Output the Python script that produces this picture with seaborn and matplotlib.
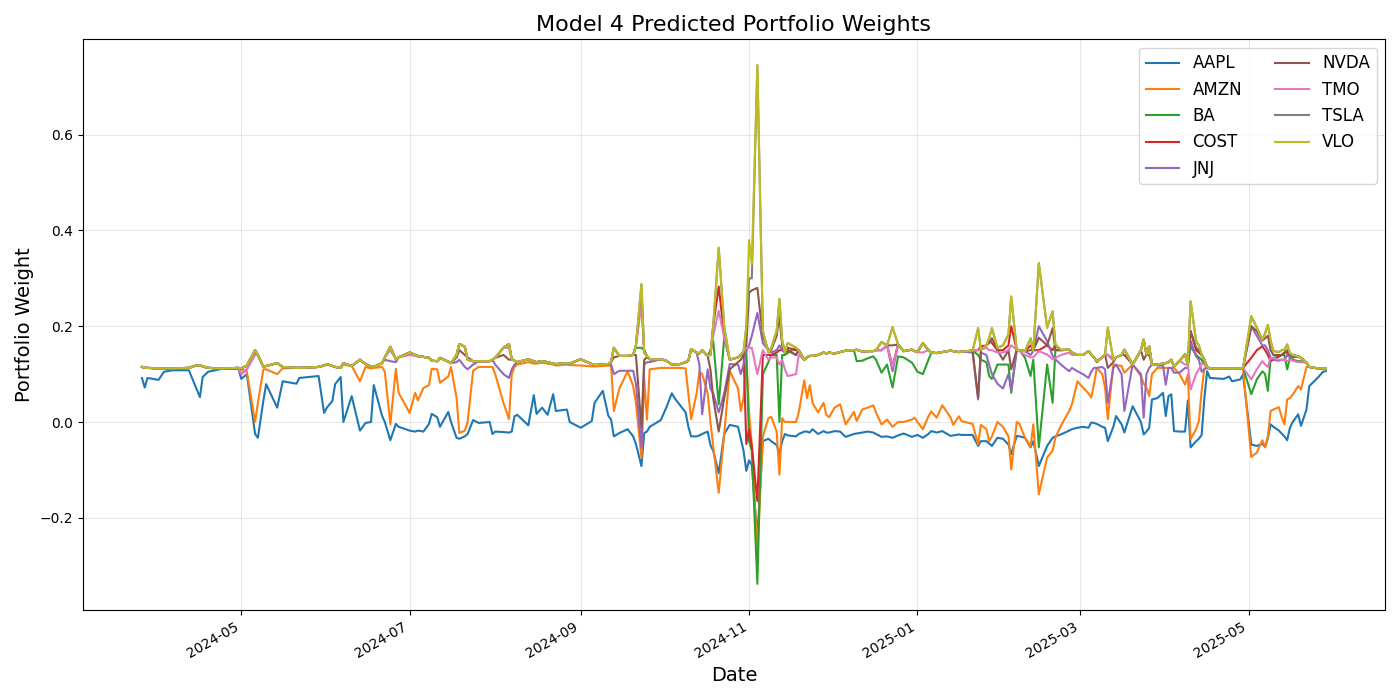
import matplotlib
matplotlib.use("Agg")
import matplotlib.pyplot as plt
import matplotlib.dates as mdates
import numpy as np
import pandas as pd
import seaborn as sns

# observation days, counted from 2024-03-26
start = "2024-03-26"
days = [0, 1, 2, 6, 8, 11, 17, 19, 21, 22,
        24, 29, 35, 36, 38, 41, 42, 44, 45, 49,
        51, 56, 57, 64, 66, 67, 69, 70, 72, 73,
        76, 79, 81, 83, 84, 87, 88, 90, 92, 93,
        97, 99, 100, 102, 104, 105, 107, 108, 111, 112,
        114, 115, 117, 118, 120, 122, 126, 127, 128, 131,
        133, 134, 135, 136, 140, 142, 143, 145, 147, 149,
        150, 154, 155, 159, 163, 164, 167, 169, 170, 171,
        173, 176, 178, 179, 181, 182, 183, 184, 188, 190,
        192, 193, 195, 197, 198, 199, 201, 202, 203, 205,
        206, 207, 209, 211, 213, 216, 217, 218, 219, 220,
        221, 223, 225, 227, 228, 230, 231, 232, 233, 234,
        237, 238, 240, 241, 242, 243, 245, 247, 248, 249,
        251, 253, 255, 258, 259, 261, 263, 265, 266, 268,
        270, 272, 274, 276, 279, 280, 281, 283, 285, 286,
        288, 290, 293, 294, 296, 297, 301, 303, 304, 306,
        307, 308, 310, 312, 314, 315, 317, 318, 320, 322,
        323, 325, 328, 330, 331, 333, 336, 337, 339, 341,
        343, 344, 345, 346, 348, 349, 350, 352, 353, 355,
        356, 359, 362, 363, 364, 365, 366, 368, 370, 371,
        372, 373, 374, 376, 378, 379, 380, 382, 383, 384,
        385, 386, 387, 392, 394, 395, 398, 399, 402, 404,
        406, 407, 408, 409, 410, 412, 413, 414, 415, 416,
        417, 419, 420, 422, 423, 426, 428, 429]

aapl = [.092, .072, .092, .088, .105, .108, .108, .080, .052, .094,
        .105, .111, .111, .090, .100, -.025, -.033, .045, .079, .030,
        .085, .080, .092, .096, .019, .030, .044, .079, .094, .000,
        .054, -.018, -.002, .000, .077, .013, .000, -.038, -.004, -.010,
        -.018, -.020, -.018, -.020, -.004, .017, .010, -.010, .021, .000,
        -.033, -.035, -.030, -.025, .004, -.002, .000, -.025, -.020, -.021,
        -.022, -.020, .012, .015, -.007, .056, .017, .030, .015, .058,
        .023, .026, .000, -.012, .002, .040, .065, .013, .005, -.030,
        -.023, -.015, -.030, -.046, -.092, -.023, -.020, -.010, .004, .030,
        .060, .050, .035, .020, -.010, -.030, -.030, -.028, -.025, -.020,
        -.048, -.060, -.107, -.025, -.006, -.010, -.035, -.060, -.102, -.080,
        -.090, -.242, -.040, -.035, -.040, -.048, -.067, -.040, -.025, -.028,
        -.030, -.025, -.020, -.020, -.022, -.015, -.025, -.019, -.022, -.022,
        -.019, -.020, -.031, -.025, -.024, -.022, -.020, -.022, -.025, -.031,
        -.030, -.033, -.028, -.024, -.031, -.029, -.027, -.033, -.025, -.019,
        -.022, -.019, -.029, -.028, -.026, -.027, -.027, -.050, -.040, -.040,
        -.045, -.050, -.033, -.035, -.047, -.067, -.029, -.030, -.033, -.053,
        -.040, -.092, -.050, -.033, -.030, -.026, -.018, -.015, -.012, -.010,
        -.012, -.001, -.002, -.004, -.010, -.012, -.040, -.010, .0125, -.005,
        -.022, .033, .000, -.026, -.020, -.012, .047, .050, .061, .0125,
        .054, .058, -.019, -.020, -.020, .045, -.053, -.040, -.035, -.027,
        .050, .106, .092, .090, .095, .085, .089, .099, -.047, -.050,
        -.045, -.052, -.034, -.005, -.010, -.018, -.024, -.030, -.038, -.012,
        .000, .016, -.008, .026, .075, .092, .105, .106]

amzn = [.115, .113, .113, .112, .112, .112, .113, .117, .119, .116,
        .113, .112, .113, .110, .105, .000, .040, .110, .110, .100,
        .112, .113, .113, .115, .118, .121, .117, .115, .113, .120,
        .117, .085, .115, .112, .113, .115, .105, -.005, .111, .061,
        .019, .061, .045, .071, .077, .111, .110, .082, .095, .115,
        .050, -.023, -.018, .000, .107, .115, .115, .115, .100, .040,
        .006, .100, .115, .120, .125, .122, .122, .124, .122, .120,
        .118, .120, .119, .118, .116, .116, .117, .118, .118, .023,
        .070, .106, .075, .040, -.075, .090, .005, .110, .113, .113,
        .113, .113, .113, .112, .060, .006, .060, .105, .100, .060,
        .000, -.050, -.148, -.025, .107, .070, .023, .050, .130, .020,
        -.050, -.270, -.030, .008, .011, -.020, -.110, .008, .000, .000,
        .000, .020, .087, .050, .077, .040, .020, .040, .015, .010,
        .030, .037, -.005, .021, .002, .026, .030, .035, .020, -.005,
        .005, -.010, .000, .000, .005, .009, .000, -.015, .012, .022,
        .009, .035, .010, -.006, .012, .002, -.004, -.047, -.006, -.015,
        -.040, -.030, .000, -.010, -.030, -.099, .000, -.004, -.033, -.052,
        -.005, -.151, -.074, -.060, -.033, -.008, .023, .037, .085, .072,
        .060, .051, .079, .113, .100, .072, .006, .120, .119, .117,
        .103, .120, .096, .080, .072, .054, .100, .113, .113, .113,
        .113, .113, .113, .100, .078, .099, -.036, -.015, .002, .065,
        .112, .112, .112, .112, .112, .112, .112, .112, -.073, -.064,
        -.038, -.053, -.030, .023, .026, .031, .010, -.005, .047, .050,
        .057, .075, .068, .115, .115, .112, .112, .112]

ba = [.115, .113, .113, .112, .112, .112, .113, .117, .119, .116,
      .113, .112, .113, .112, .118, .150, .140, .115, .117, .123,
      .115, .113, .113, .115, .118, .121, .117, .115, .113, .123,
      .117, .130, .121, .116, .115, .123, .135, .157, .131, .135,
      .145, .140, .138, .136, .134, .128, .127, .134, .126, .123,
      .140, .163, .157, .130, .127, .127, .127, .130, .134, .155,
      .163, .131, .128, .125, .131, .127, .125, .127, .125, .122,
      .121, .123, .122, .131, .121, .119, .120, .121, .125, .155,
      .138, .138, .140, .155, .155, .150, .138, .131, .131, .128,
      .120, .120, .121, .125, .128, .152, .145, .143, .150, .138,
      .150, .170, .037, .176, .130, .135, .140, .147, .150, -.040,
      -.060, -.338, .100, .125, .140, .140, .000, .140, .140, .144,
      .155, .150, .130, .135, .138, .138, .140, .145, .143, .145,
      .143, .146, .149, .150, .127, .128, .133, .137, .130, .103,
      .120, .072, .137, .135, .124, .115, .105, .100, .130, .144,
      .144, .146, .149, .148, .146, .147, .149, .140, .130, .125,
      .096, .090, .120, .120, .120, .061, .151, .150, .134, .096,
      .130, -.053, .120, .040, .150, .150, .151, .145, .140, .140,
      .148, .141, .135, .127, .135, .141, .140, .130, .135, .140,
      .151, .120, .150, .172, .141, .158, .120, .120, .122, .123,
      .125, .130, .116, .128, .141, .120, .158, .140, .135, .130,
      .120, .115, .112, .112, .112, .112, .112, .113, .058, .089,
      .106, .100, .065, .134, .134, .137, .140, .140, .110, .134,
      .130, .127, .127, .124, .115, .112, .112, .112]

cost = [.115, .113, .113, .112, .112, .112, .113, .117, .119, .116,
        .113, .112, .113, .112, .118, .150, .140, .115, .117, .123,
        .115, .113, .113, .115, .118, .121, .117, .115, .113, .123,
        .117, .130, .121, .116, .115, .123, .135, .157, .131, .135,
        .145, .140, .138, .136, .134, .128, .127, .134, .126, .123,
        .140, .163, .157, .130, .127, .127, .127, .130, .134, .155,
        .163, .131, .128, .125, .131, .127, .125, .127, .125, .122,
        .121, .123, .122, .131, .121, .119, .120, .121, .125, .155,
        .138, .138, .140, .160, .265, .145, .138, .131, .131, .128,
        .120, .120, .121, .125, .128, .152, .145, .143, .150, .138,
        .140, .200, .283, .180, .130, .135, .140, .147, -.046, -.015,
        -.050, -.165, .140, .140, .140, .145, .150, .150, .150, .155,
        .150, .150, .130, .135, .138, .138, .140, .145, .143, .145,
        .143, .146, .149, .150, .151, .147, .148, .148, .150, .150,
        .160, .117, .162, .148, .151, .148, .146, .165, .150, .145,
        .144, .146, .149, .148, .146, .147, .149, .150, .158, .160,
        .170, .165, .150, .150, .160, .200, .151, .150, .148, .160,
        .150, .150, .160, .150, .160, .150, .151, .145, .140, .140,
        .148, .141, .135, .127, .135, .141, .140, .130, .135, .140,
        .151, .120, .150, .172, .141, .158, .120, .120, .122, .123,
        .125, .130, .116, .128, .141, .120, .190, .150, .145, .140,
        .130, .115, .112, .112, .112, .112, .112, .113, .134, .150,
        .158, .150, .140, .127, .130, .137, .140, .145, .145, .140,
        .135, .137, .134, .124, .115, .112, .112, .112]

jnj = [.115, .113, .113, .112, .112, .112, .113, .117, .119, .116,
       .113, .112, .113, .100, .110, .145, .140, .115, .117, .123,
       .115, .113, .113, .115, .118, .121, .117, .115, .113, .123,
       .117, .130, .121, .116, .115, .123, .130, .127, .125, .135,
       .145, .140, .138, .136, .134, .128, .127, .134, .126, .123,
       .125, .130, .115, .110, .120, .127, .127, .130, .120, .100,
       .092, .110, .120, .125, .131, .127, .125, .127, .125, .122,
       .121, .123, .122, .131, .121, .119, .120, .121, .120, .100,
       .107, .107, .107, .080, -.054, .120, .125, .125, .131, .128,
       .120, .120, .121, .125, .128, .152, .145, .120, .016, .110,
       .070, .060, .020, .060, .121, .120, .100, .120, .150, .160,
       .180, .228, .165, .150, .145, .150, .160, .150, .145, .150,
       .140, .150, .130, .135, .138, .138, .140, .145, .143, .145,
       .143, .146, .149, .150, .151, .147, .148, .148, .150, .150,
       .160, .106, .162, .148, .151, .148, .146, .165, .150, .145,
       .144, .146, .149, .148, .146, .147, .145, .047, .145, .140,
       .120, .100, .080, .070, .100, .065, .151, .150, .148, .140,
       .148, .200, .169, .138, .131, .120, .106, .113, .106, .100,
       .092, .105, .113, .113, .115, .110, .040, .113, .120, .100,
       .023, .120, .100, .009, .100, .113, .120, .118, .118, .078,
       .113, .113, .103, .103, .113, .113, .170, .137, .130, .105,
       .110, .115, .112, .112, .112, .112, .112, .113, .200, .180,
       .160, .160, .150, .135, .130, .128, .130, .130, .140, .135,
       .140, .137, .134, .124, .115, .112, .112, .112]

nvda = [.115, .113, .113, .112, .112, .112, .113, .117, .119, .116,
        .113, .112, .113, .112, .118, .150, .140, .115, .117, .123,
        .115, .113, .113, .115, .118, .121, .117, .115, .113, .123,
        .117, .130, .121, .116, .115, .123, .135, .157, .131, .135,
        .145, .140, .138, .136, .134, .128, .127, .134, .126, .123,
        .135, .150, .140, .135, .127, .127, .127, .130, .134, .140,
        .130, .131, .128, .125, .131, .127, .125, .127, .125, .122,
        .121, .123, .122, .131, .121, .119, .120, .121, .125, .135,
        .138, .138, .140, .140, -.012, .130, .135, .131, .131, .128,
        .120, .120, .121, .125, .128, .152, .145, .143, .150, .138,
        .110, .050, -.020, .050, .110, .125, .130, .140, .160, .270,
        .275, .280, .180, .150, .150, .180, .220, .160, .145, .150,
        .140, .150, .130, .135, .138, .138, .140, .145, .143, .145,
        .143, .146, .149, .150, .151, .147, .148, .148, .150, .167,
        .160, .160, .162, .148, .151, .148, .146, .165, .150, .145,
        .144, .146, .149, .148, .146, .147, .149, .051, .150, .160,
        .165, .175, .150, .130, .150, .110, .151, .150, .148, .150,
        .150, .176, .160, .196, .150, .150, .151, .145, .140, .140,
        .148, .141, .135, .125, .135, .141, .113, .125, .135, .140,
        .140, .120, .150, .130, .141, .140, .120, .120, .122, .123,
        .125, .130, .116, .128, .141, .120, .190, .155, .150, .140,
        .130, .115, .112, .112, .112, .112, .112, .113, .200, .190,
        .170, .175, .180, .150, .140, .140, .140, .145, .150, .140,
        .140, .137, .134, .124, .115, .112, .112, .112]

tmo = [.115, .113, .113, .112, .112, .112, .113, .117, .119, .116,
       .113, .112, .113, .100, .110, .140, .140, .115, .117, .123,
       .115, .113, .113, .115, .118, .121, .117, .115, .113, .123,
       .117, .130, .121, .116, .115, .123, .135, .150, .131, .135,
       .140, .138, .136, .136, .134, .128, .127, .134, .126, .123,
       .140, .163, .157, .130, .127, .127, .127, .130, .134, .155,
       .155, .131, .128, .125, .131, .127, .125, .127, .125, .122,
       .121, .123, .122, .131, .121, .119, .120, .121, .125, .155,
       .138, .138, .140, .160, .245, .145, .138, .131, .131, .128,
       .120, .120, .121, .125, .128, .152, .145, .143, .150, .138,
       .140, .180, .232, .176, .130, .135, .140, .147, .155, .155,
       .155, .100, .150, .130, .135, .135, .120, .130, .110, .096,
       .100, .140, .130, .135, .138, .138, .140, .145, .143, .145,
       .143, .146, .149, .150, .151, .147, .148, .148, .150, .150,
       .160, .115, .162, .148, .151, .148, .146, .145, .150, .145,
       .144, .146, .149, .148, .146, .147, .149, .150, .151, .155,
       .150, .150, .145, .145, .150, .160, .151, .148, .140, .135,
       .135, .148, .141, .131, .134, .140, .145, .140, .140, .140,
       .148, .141, .135, .127, .135, .141, .140, .130, .135, .140,
       .151, .120, .150, .172, .141, .158, .120, .120, .122, .123,
       .125, .130, .116, .128, .120, .120, .068, .100, .110, .123,
       .120, .115, .112, .112, .112, .112, .112, .113, .089, .110,
       .127, .120, .115, .134, .134, .130, .130, .130, .127, .130,
       .128, .125, .125, .124, .115, .112, .112, .112]

tsla = [.115, .113, .113, .112, .112, .112, .113, .117, .119, .116,
        .113, .112, .113, .112, .118, .150, .140, .115, .117, .123,
        .115, .113, .113, .115, .118, .121, .117, .115, .113, .123,
        .117, .130, .121, .116, .115, .123, .135, .157, .131, .135,
        .145, .140, .138, .136, .134, .128, .127, .134, .126, .123,
        .140, .163, .157, .130, .127, .127, .127, .130, .134, .155,
        .163, .131, .128, .125, .131, .127, .125, .127, .125, .122,
        .121, .123, .122, .131, .121, .119, .120, .121, .125, .155,
        .138, .138, .140, .160, .288, .145, .138, .131, .131, .128,
        .120, .120, .121, .125, .128, .152, .145, .143, .150, .138,
        .140, .200, .364, .200, .130, .135, .140, .147, .200, .300,
        .300, .745, .190, .145, .154, .190, .257, .170, .145, .165,
        .155, .150, .130, .135, .138, .138, .140, .145, .143, .145,
        .143, .146, .149, .150, .151, .147, .148, .148, .150, .167,
        .160, .198, .162, .148, .151, .148, .146, .165, .150, .145,
        .144, .146, .149, .148, .146, .147, .149, .196, .151, .160,
        .175, .196, .155, .160, .183, .262, .151, .150, .148, .175,
        .148, .332, .197, .231, .162, .151, .151, .145, .140, .140,
        .148, .141, .135, .127, .135, .141, .197, .130, .135, .140,
        .151, .120, .150, .172, .141, .158, .120, .120, .122, .123,
        .125, .130, .116, .128, .141, .120, .252, .169, .160, .141,
        .130, .115, .112, .112, .112, .112, .112, .113, .221, .197,
        .172, .185, .203, .170, .148, .146, .150, .151, .162, .144,
        .140, .137, .134, .124, .115, .112, .112, .112]

vlo = [.115, .113, .113, .112, .112, .112, .113, .117, .119, .116,
       .113, .112, .113, .112, .118, .150, .140, .115, .117, .123,
       .115, .113, .113, .115, .118, .121, .117, .115, .113, .123,
       .117, .130, .121, .116, .115, .123, .135, .157, .131, .135,
       .145, .140, .138, .136, .134, .128, .127, .134, .126, .123,
       .140, .163, .157, .130, .127, .127, .127, .130, .134, .155,
       .163, .131, .128, .125, .131, .127, .125, .127, .125, .122,
       .121, .123, .122, .131, .121, .119, .120, .121, .125, .155,
       .138, .138, .140, .160, .288, .145, .138, .131, .131, .128,
       .120, .120, .121, .125, .128, .152, .145, .143, .150, .138,
       .140, .200, .364, .200, .130, .135, .140, .147, .200, .380,
       .330, .745, .190, .145, .154, .190, .257, .170, .145, .165,
       .155, .150, .130, .135, .138, .138, .140, .145, .143, .145,
       .143, .146, .149, .150, .151, .147, .148, .148, .150, .167,
       .160, .198, .162, .148, .151, .148, .146, .165, .150, .145,
       .144, .146, .149, .148, .146, .147, .149, .196, .151, .160,
       .175, .196, .155, .160, .183, .262, .151, .150, .148, .175,
       .148, .332, .197, .231, .162, .151, .151, .145, .140, .140,
       .148, .141, .135, .127, .135, .141, .197, .130, .135, .140,
       .151, .120, .150, .172, .141, .158, .120, .120, .122, .123,
       .125, .130, .116, .128, .141, .120, .252, .169, .160, .141,
       .130, .115, .112, .112, .112, .112, .112, .113, .221, .197,
       .172, .185, .203, .170, .148, .146, .150, .151, .162, .144,
       .140, .137, .134, .124, .115, .112, .112, .112]

tickers = ["AAPL", "AMZN", "BA", "COST", "JNJ", "NVDA", "TMO", "TSLA", "VLO"]
weights = [aapl, amzn, ba, cost, jnj, nvda, tmo, tsla, vlo]

dates = pd.Timestamp(start) + pd.to_timedelta(days, unit="D")
frames = []
for name, w in zip(tickers, weights):
    frames.append(pd.DataFrame({"Date": dates, "Weight": w, "Ticker": name}))
df = pd.concat(frames, ignore_index=True)

fig, ax = plt.subplots(figsize=(14, 7), dpi=100)
sns.lineplot(data=df, x="Date", y="Weight", hue="Ticker", hue_order=tickers,
             palette="tab10", linewidth=1.5, estimator=None, ax=ax)

ax.set_title("Model 4 Predicted Portfolio Weights", fontsize=16)
ax.set_xlabel("Date", fontsize=14)
ax.set_ylabel("Portfolio Weight", fontsize=14)
ax.grid(True, alpha=0.3)
ax.xaxis.set_major_locator(mdates.MonthLocator(bymonth=[1, 3, 5, 7, 9, 11]))
ax.xaxis.set_major_formatter(mdates.DateFormatter("%Y-%m"))

handles, labels = ax.get_legend_handles_labels()
ax.legend(handles, labels, ncol=2, loc="upper right", fontsize=12)

fig.autofmt_xdate()
plt.tight_layout()
fig.savefig("out.png")
